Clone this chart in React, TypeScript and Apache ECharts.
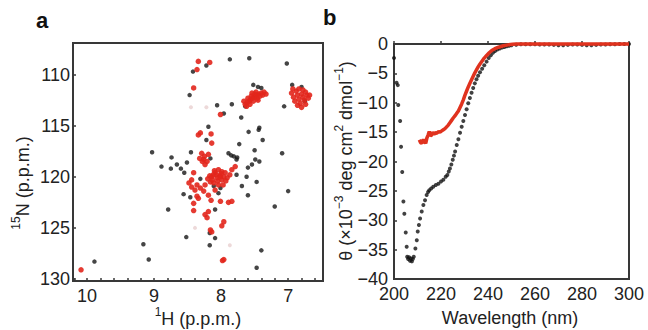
import { useEffect, useRef } from 'react';
import * as echarts from 'echarts';

const FONT = '"Liberation Sans", Arial, Helvetica, sans-serif';

// ---- Panel a: 1H-15N HSQC peaks ----
const hLabels = [7, 8, 9, 10];
const hTickMarks = [6.6, 6.8, 7.0, 7.2, 7.4, 7.6, 7.8, 8.0, 8.2, 8.4, 8.6, 8.8, 9.0, 9.2, 9.4, 9.6, 9.8, 10.0, 10.2];
const nLabels = [110, 115, 120, 125, 130];

const blackPeaks: [number, number][] = [
  [7.58, 108.4], [7.87, 108.5], [7.02, 108.9], [8.22, 109.1], [8.42, 109.7],
  [7.52, 111.0], [7.45, 111.2], [7.40, 111.3], [6.94, 111.0], [6.80, 111.2], [6.75, 112.6], [7.06, 113.1], [7.64, 113.1], [7.70, 114.2],
  [8.47, 112.0], [8.06, 113.0], [7.84, 112.9], [7.96, 113.8],
  [8.19, 115.1], [7.59, 115.6], [7.43, 115.2], [7.44, 115.4], [7.38, 116.4], [7.73, 116.8], [8.22, 116.4],
  [9.03, 117.6], [7.50, 117.4], [7.09, 117.7], [8.45, 117.6], [8.74, 118.1], [8.51, 118.6], [8.66, 118.8], [8.89, 119.0], [8.75, 119.2], [8.60, 119.2], [8.55, 119.6],
  [7.89, 117.7], [7.85, 117.9], [7.81, 118.0], [7.76, 118.1], [8.16, 118.2],
  [7.49, 118.3], [7.43, 118.5], [7.54, 118.8], [7.60, 119.1], [7.77, 118.3], [7.77, 119.8], [7.62, 120.0], [7.47, 120.5], [7.69, 120.9], [7.60, 121.8], [7.00, 121.4],
  [8.31, 120.2], [8.46, 122.0], [8.56, 121.7], [8.11, 120.9], [8.01, 121.1], [8.04, 121.6],
  [8.79, 123.2], [8.09, 123.2], [7.20, 122.9], [8.52, 125.9], [8.09, 126.0], [8.17, 126.7], [8.17, 125.5],
  [9.16, 126.6], [9.08, 128.1], [9.89, 128.3], [7.40, 127.2], [7.47, 128.9],
];

const redPeaks: [number, number][] = [
  [8.34, 108.7], [8.17, 108.8], [8.36, 109.5], [8.41, 111.3], [8.01, 113.9],
  [8.31, 115.7], [8.34, 115.9], [8.15, 115.8], [8.14, 116.7],
  [8.29, 117.7], [8.25, 118.0], [8.26, 118.3], [8.21, 118.5], [8.19, 117.8], [8.32, 118.2], [8.24, 118.8], [8.28, 118.5],
  [8.09, 119.6], [8.04, 119.3], [7.99, 119.5], [7.94, 119.6], [7.87, 119.8], [8.14, 120.0], [8.06, 120.1], [7.99, 120.3],
  [7.91, 120.1], [7.84, 119.3], [7.79, 119.0], [8.11, 120.6], [8.04, 120.8], [8.16, 120.5], [8.36, 120.8], [8.39, 121.3],
  [8.31, 121.1], [8.44, 120.3], [8.41, 119.6], [8.26, 121.4], [8.19, 121.8], [8.36, 121.9], [7.97, 120.8], [8.09, 121.3],
  [8.02, 119.9], [8.07, 119.8], [7.96, 120.0], [8.12, 119.8], [8.00, 119.7], [8.20, 120.2], [8.24, 120.8], [8.48, 120.6], [8.44, 121.0],
  [8.05, 120.4], [8.13, 120.3], [7.93, 120.4], [8.01, 120.0], [8.17, 119.9], [8.10, 119.4],
  [8.41, 122.6], [8.41, 123.3], [8.34, 122.1], [8.24, 123.7], [8.19, 123.4], [8.21, 124.0], [8.15, 122.3], [8.01, 122.4],
  [7.89, 122.5], [7.84, 122.4], [7.99, 124.8], [7.96, 124.4], [8.16, 125.2], [8.14, 125.4], [7.96, 128.1], [7.98, 128.2], [10.09, 129.1],
  // side-chain cluster near 7.5 p.p.m.
  [7.64, 112.9], [7.61, 112.7], [7.58, 112.6], [7.56, 112.4], [7.53, 112.3], [7.50, 112.2], [7.47, 112.0], [7.44, 111.9],
  [7.40, 111.8], [7.36, 111.7], [7.60, 112.3], [7.55, 112.1], [7.50, 111.9], [7.46, 112.3], [7.52, 112.6], [7.57, 112.9],
  [7.42, 112.1], [7.38, 112.0], [7.62, 113.1], [7.66, 112.6], [7.48, 111.7], [7.33, 111.9], [7.54, 111.8], [7.45, 112.5],
  // side-chain cluster near 6.8 p.p.m.
  [6.95, 111.8], [6.92, 112.2], [6.90, 112.6], [6.88, 111.6], [6.86, 112.0], [6.84, 112.4], [6.82, 112.8], [6.80, 111.9],
  [6.78, 112.2], [6.76, 112.5], [6.74, 111.7], [6.72, 112.0], [6.70, 112.3], [6.68, 112.0], [6.86, 113.0], [6.80, 113.2],
  [6.93, 111.4], [6.78, 111.5], [6.84, 111.4], [6.74, 112.9],
];

const faintPeaks: [number, number][] = [
  [8.45, 113.2], [8.22, 113.2], [8.39, 125.0], [7.87, 126.7],
];

// ---- Panel b: CD spectra ----
const wlLabels = [200, 220, 240, 260, 280, 300];
const thetaLabels = [0, -5, -10, -15, -20, -25, -30, -35, -40];

const cdBlackWl = [
  200, 201.1, 201.6, 201.8, 202.6, 203.0, 203.5, 204.0, 204.4, 205.0, 205.4, 205.6, 206.0, 206.4, 206.8, 207.2, 207.6, 208.0, 208.4,
  209.1, 209.7, 210.1, 210.6, 211.1, 211.8, 212.5, 213.2, 213.9, 214.5, 215.0, 215.8, 216.7, 217.8, 218.9, 220.0, 221.0, 222.0,
  222.7, 223.3, 223.8, 224.4, 225.0, 225.5, 226.0, 226.7, 227.4, 228.1, 228.8, 229.5, 230.2, 230.9, 231.6, 232.3, 233.0, 233.7,
  234.4, 235.1, 235.8, 236.6, 237.5, 238.4, 239.4, 240.3, 241.2, 242.1, 243.0, 244.0, 245.0, 246.0, 247.0, 248.0, 249.0, 250.0,
  252, 254, 256, 258, 260, 262, 264, 266, 268, 270, 272, 274, 276, 278, 280, 282, 284, 286, 288, 290, 292, 294, 296, 298, 300,
];
const cdBlackTheta = [
  -2.4, -6.6, -7.0, -10.4, -13.1, -17.5, -21.8, -26.8, -28.9, -32.1, -34.5, -36.2, -36.6, -36.3, -36.9, -36.5, -37.0, -36.6, -36.2,
  -34.8, -33.4, -31.9, -30.8, -29.7, -28.5, -27.4, -26.6, -25.7, -25.2, -24.9, -24.6, -24.3, -24.0, -23.8, -23.4, -23.1, -22.6,
  -22.3, -21.7, -21.2, -20.5, -19.7, -19.0, -18.3, -17.2, -16.2, -15.1, -14.1, -13.1, -12.1, -11.1, -10.1, -9.2, -8.3, -7.5,
  -6.7, -6.0, -5.4, -4.8, -4.2, -3.6, -3.0, -2.4, -1.9, -1.5, -1.2, -0.95, -0.75, -0.6, -0.5, -0.4, -0.3, -0.22,
  -0.12, -0.06, -0.05, -0.05, -0.05, -0.1, -0.1, -0.1, -0.15, -0.2, -0.2, -0.15, -0.1, -0.1, -0.15, -0.2, -0.2, -0.15, -0.1, -0.1, -0.05, -0.05, 0, 0, 0,
];

const cdRedWl = [
  210.8, 211.3, 211.8, 212.2, 212.5, 213.0, 213.5, 214.0, 214.5, 215.0, 215.5, 216.0, 216.5, 217.0, 217.5, 218.2, 219.0, 219.6,
  220.3, 221.0, 221.7, 222.4, 223.1, 223.8, 224.5, 225.2, 226.0, 226.7, 227.4, 228.1, 228.8, 229.5, 230.2, 230.9, 231.6, 232.3,
  233.0, 233.7, 234.4, 235.1, 235.8, 236.6, 237.5, 238.4, 239.4, 240.5, 241.6, 242.9, 244.5, 246.5, 248.5, 250.5, 252.0,
  255, 260, 265, 270, 275, 280, 285, 290, 295, 300,
];
const cdRedTheta = [
  -16.3, -16.8, -16.9, -16.5, -16.3, -16.6, -16.9, -16.0, -15.5, -14.9, -15.6, -15.5, -15.0, -15.4, -15.1, -15.2, -14.9, -15.0,
  -14.8, -14.6, -14.4, -14.1, -13.8, -13.4, -13.0, -12.6, -12.2, -11.8, -11.4, -10.8, -10.2, -9.5, -8.7, -8.0, -7.3, -6.7,
  -6.1, -5.5, -4.9, -4.4, -3.9, -3.4, -2.9, -2.4, -1.95, -1.5, -1.1, -0.8, -0.55, -0.3, -0.15, -0.05, 0,
  0, 0, 0, 0, 0, 0, 0, 0, 0, 0,
];

const TEXT = '#222';
const FRAME = '#383838';

export default function App() {
  const ref = useRef<HTMLDivElement>(null);
  useEffect(() => {
    const chart = echarts.init(ref.current!, null, { renderer: 'svg' });
    const labelStyle = { fontSize: 18, color: TEXT, fontFamily: FONT };
    const titleStyle = (text: string) => ({
      text,
      fontSize: 18,
      fontFamily: FONT,
      fill: TEXT,
      align: 'center',
      verticalAlign: 'middle',
      lineHeight: 26,
      rich: { sup: { fontSize: 12, lineHeight: 15, verticalAlign: 'top', fontFamily: FONT, fill: TEXT } },
    });
    chart.setOption({
      animation: false,
      backgroundColor: '#ffffff',
      grid: [
        { left: 73, top: 43, width: 250, height: 238, show: true, borderColor: FRAME, borderWidth: 2, backgroundColor: 'transparent' },
        { left: 394, top: 44, width: 235, height: 235, show: true, borderColor: FRAME, borderWidth: 2, backgroundColor: 'transparent' },
      ],
      xAxis: [
        {
          type: 'value', gridIndex: 0, min: 6.48, max: 10.21, inverse: true, position: 'bottom',
          axisLine: { show: false }, splitLine: { show: false },
          axisTick: { show: true, inside: true, length: 3, customValues: hTickMarks, lineStyle: { color: FRAME, width: 1.5 } },
          axisLabel: { ...labelStyle, margin: 6, customValues: hLabels, formatter: (v: number) => String(Math.round(v)) },
        },
        {
          type: 'value', gridIndex: 1, min: 200, max: 300, interval: 20, position: 'bottom',
          axisLine: { show: false }, splitLine: { show: false },
          axisTick: { show: true, inside: true, length: 3, lineStyle: { color: FRAME, width: 1.5 } },
          axisLabel: { ...labelStyle, margin: 6, customValues: wlLabels },
        },
      ],
      yAxis: [
        {
          type: 'value', gridIndex: 0, min: 106.9, max: 130.2, inverse: true,
          axisLine: { show: false }, splitLine: { show: false },
          axisTick: { show: true, inside: true, length: 3, customValues: nLabels, lineStyle: { color: FRAME, width: 1.5 } },
          axisLabel: { ...labelStyle, margin: 3, customValues: nLabels },
        },
        {
          type: 'value', gridIndex: 1, min: -40, max: 0, interval: 5,
          axisLine: { show: false }, splitLine: { show: false },
          axisTick: { show: true, inside: true, length: 3, lineStyle: { color: FRAME, width: 1.5 } },
          axisLabel: {
            ...labelStyle, margin: 6, customValues: thetaLabels,
            formatter: (v: number) => (v < 0 ? '\u2212' + Math.abs(v) : String(v)),
          },
        },
      ],
      series: [
        {
          type: 'scatter', xAxisIndex: 0, yAxisIndex: 0, data: faintPeaks, symbolSize: 4,
          itemStyle: { color: '#e8cfcf' }, z: 1,
        },
        {
          type: 'scatter', xAxisIndex: 0, yAxisIndex: 0, data: blackPeaks, symbolSize: 4.5,
          itemStyle: { color: '#161616' }, z: 2,
        },
        {
          type: 'scatter', xAxisIndex: 0, yAxisIndex: 0, data: redPeaks, symbolSize: 5.5,
          itemStyle: { color: '#e2261c', opacity: 0.9 }, z: 3,
        },
        {
          type: 'scatter', xAxisIndex: 1, yAxisIndex: 1,
          data: cdBlackWl.map((w, i) => [w, cdBlackTheta[i]]), symbolSize: 4,
          itemStyle: { color: '#111' }, z: 2, clip: false,
        },
        {
          type: 'line', xAxisIndex: 1, yAxisIndex: 1,
          data: cdRedWl.map((w, i) => [w, cdRedTheta[i]]), symbol: 'none', smooth: false,
          lineStyle: { color: '#e0321e', width: 3.5 }, z: 4, clip: false,
        },
      ],
      graphic: [
        { type: 'text', x: 36, y: 20, style: { text: 'a', fontSize: 22, fontWeight: 'bold', fontFamily: FONT, fill: '#111', align: 'left', verticalAlign: 'middle' } },
        { type: 'text', x: 323, y: 17, style: { text: 'b', fontSize: 22, fontWeight: 'bold', fontFamily: FONT, fill: '#111', align: 'left', verticalAlign: 'middle' } },
        { type: 'text', x: 23, y: 183, rotation: Math.PI / 2, style: titleStyle('{sup|15}N (p.p.m.)') },
        { type: 'text', x: 198, y: 319, style: titleStyle('{sup|1}H (p.p.m.)') },
        { type: 'text', x: 346, y: 161, rotation: Math.PI / 2, style: titleStyle('\u03b8 (\u00d710{sup|\u22123} deg cm{sup|2} dmol{sup|\u22121})') },
        { type: 'text', x: 510, y: 318, style: titleStyle('Wavelength (nm)') },
      ],
    });
    return () => chart.dispose();
  }, []);
  return (
    <div
      ref={ref}
      style={{ position: 'absolute', left: 0, top: 0, width: 648, height: 330, background: '#fff' }}
    />
  );
}
